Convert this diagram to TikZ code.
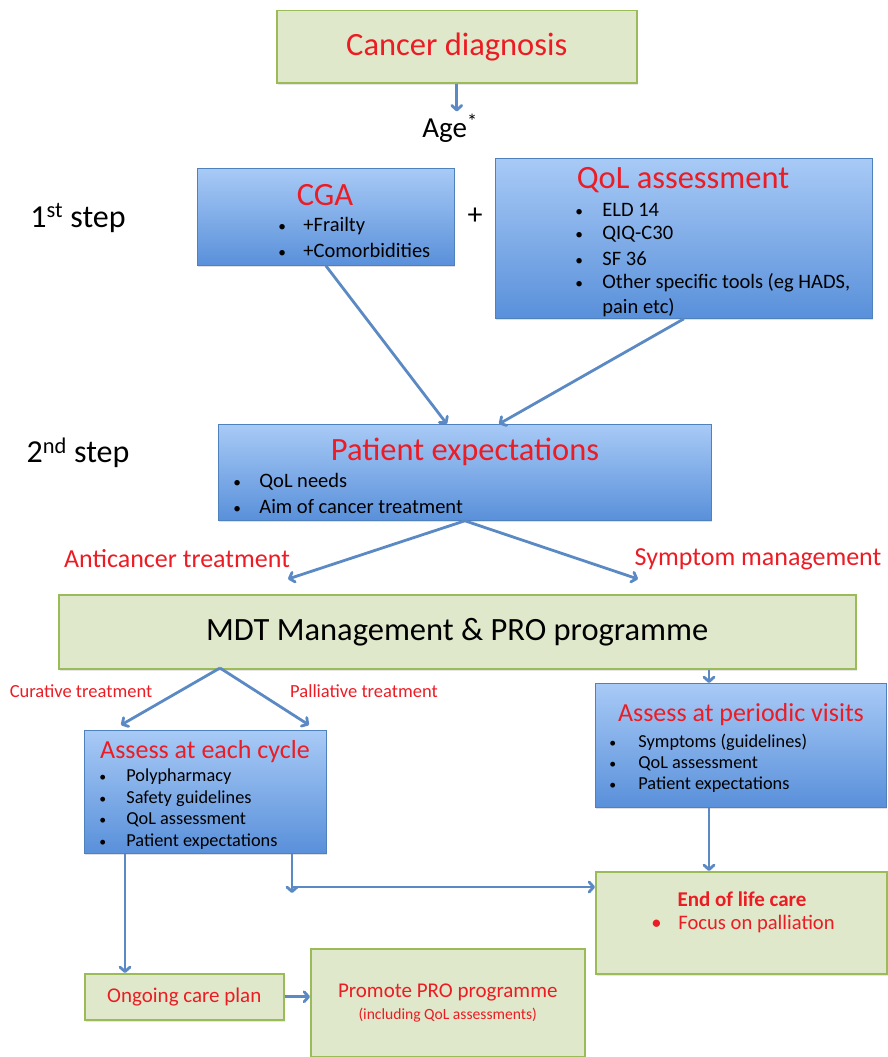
\documentclass[tikz,border=0pt]{standalone}
\usepackage{fontspec}
\setmainfont{Carlito}
\usetikzlibrary{arrows.meta,positioning,calc,shadows}
\definecolor{box-green}{HTML}{DFE8CA}
\definecolor{edge-green}{HTML}{9BBB59}
\definecolor{blue-top}{HTML}{A8CAF6}
\definecolor{blue-bottom}{HTML}{5990DA}
\definecolor{edge-blue}{HTML}{4F81BD}
\definecolor{flow-blue}{HTML}{5A89C4}
\definecolor{title-red}{HTML}{EC1C24}

\begin{document}
\begin{tikzpicture}[x=1pt,y=-1pt,thick]
  \tikzstyle{greenbox} = [draw=edge-green, line width=1.5pt, fill=box-green, inner sep=0pt, anchor=north west,
                          drop shadow={opacity=0.2, shadow xshift=1pt, shadow yshift=-2pt}]
  \tikzstyle{bluebox} = [draw=edge-blue, line width=0.8pt, top color=blue-top, bottom color=blue-bottom, inner sep=0pt,
                         anchor=north west, drop shadow={opacity=0.25, shadow xshift=1pt, shadow yshift=-2pt}]
  \tikzstyle{flow} = [draw=flow-blue, line width=2.8pt, -{Straight Barb[length=4.5pt,width=10pt,round]}]
  \tikzstyle{item} = [anchor=west, inner sep=0pt]
  \tikzstyle{redtext} = [text=title-red, inner sep=0pt]
  % Font sizes (1pt = 1px of the figure).
    \def\fbig{\fontsize{32.5}{38}\selectfont}
    \def\fmid{\fontsize{26}{30}\selectfont}
    \def\flist{\fontsize{20.5}{24}\selectfont}
    \def\fsmall{\fontsize{18.3}{21}\selectfont}
    \def\fbox{\fontsize{21}{24}\selectfont}
    \def\dot{\scalebox{0.75}{\textbullet}}
    \def\bul{\makebox[25pt][l]{\dot}}
  \useasboundingbox (0,0) rectangle (888,1057);
% Top of the chart.
    \node[greenbox, minimum width=360pt, minimum height=72pt, font=\fbig, text=title-red] (diag) at (276,10) {Cancer diagnosis};
    \node[font=\fontsize{29}{33}\selectfont, inner sep=2pt] (age) at (450,128) {Age\textsuperscript{*}};
    \draw[flow] (diag.south) -- (diag.south |- age.north);
% 1st step
    \node[font=\fontsize{32}{36}\selectfont] (step1) at (78,218) {1\textsuperscript{st} step};
    \node[bluebox, minimum width=257pt, minimum height=97pt] (cga) at (197,168) {};
    \node[redtext, font=\fbig] (cgat) at (325,195) {CGA};
    \foreach \t [count=\i] in {+Frailty, +Comorbidities}
      \node[item, font=\flist] at (278,{202+\i*24}) {\bul\t};
    \node[font=\fontsize{30}{34}\selectfont] (plus) at (475,216) {+};
    \node[bluebox, minimum width=377pt, minimum height=160pt] (qol) at (495,158) {};
    \node[redtext, font=\fbig] (qolt) at (683,180) {QoL assessment};
    \foreach \t [count=\i] in {ELD 14, QIQ-C30, SF 36, {Other specific tools (eg HADS,}}
      \node[item, font=\flist] at (575,{185+\i*24.5}) {\makebox[27pt][l]{\dot}\t};
    \node[item, font=\flist] at (602,308) {pain etc)};
% 2nd step
    \node[font=\fontsize{32}{36}\selectfont] (step2) at (78,453) {2\textsuperscript{nd} step};
    \node[bluebox, minimum width=493pt, minimum height=96pt] (pe) at (218,424) {};
    \node[redtext, font=\fbig] (pet) at (465,452) {Patient expectations};
    \foreach \t [count=\i] in {QoL needs, Aim of cancer treatment}
      \node[item, font=\flist] at (233,{457+\i*25}) {\makebox[26pt][l]{\dot}\t};
    \draw[flow] (cga.south) -- ([xshift=-18pt]pe.north);
    \draw[flow] (qol.south) -- ([xshift=34pt]pe.north);
% Treatment routes
    \coordinate (anti) at (288,579);
    \coordinate (symp) at (638,579);
    \node[redtext, font=\fmid] (antil) at (177,559) {Anticancer treatment};
    \node[redtext, font=\fmid] (sympl) at (758,559) {Symptom management};
    \draw[flow] (pe.south) -- (anti);
    \draw[flow] (pe.south) -- (symp);
    \node[greenbox, minimum width=797pt, minimum height=74pt, font=\fbig] (mdt) at (58,594) {MDT Management \& PRO programme};
% Left branch
    \coordinate (split) at (220,668);
    \coordinate (cur) at (121,725);
    \coordinate (pal) at (309,725);
    \node[redtext, font=\fontsize{18.5}{21}\selectfont] (curl) at (81,691) {Curative treatment};
    \node[redtext, font=\fontsize{18.5}{21}\selectfont] (pall) at (364,691) {Palliative treatment};
    \draw[flow] (split) -- (cur);
    \draw[flow] (split) -- (pal);
    \node[bluebox, minimum width=242pt, minimum height=123pt] (ac) at (84,730) {};
    \node[redtext, font=\fmid] (act) at (205,752) {Assess at each cycle};
    \foreach \t [count=\i] in {Polypharmacy, Safety guidelines, QoL assessment, Patient expectations}
      \node[item, font=\fsmall] at (99,{755.5+\i*21.5}) {\makebox[27pt][l]{\dot}\t};
% Right branch
    \coordinate (xpv) at (709,0);
    \node[bluebox, minimum width=291pt, minimum height=124pt] (pv) at (595,683) {};
    \node[redtext, font=\fmid] (pvt) at (741,715) {Assess at periodic visits};
    \foreach \t [count=\i] in {Symptoms (guidelines), QoL assessment, Patient expectations}
      \node[item, font=\fsmall] at (609,{720.5+\i*21.5}) {\makebox[29pt][l]{\dot}\t};
    \draw[flow] (mdt.south -| xpv) -- (pv.north -| xpv);
    \node[greenbox, minimum width=291pt, minimum height=102pt] (eol) at (595,871) {};
    \node[redtext, font=\fbox\bfseries] (eolt) at (742,899) {End of life care};
    \node[item, redtext, font=\fontsize{20.6}{24}\selectfont] (focus) at (651,924) {\makebox[27pt][l]{\textbullet}Focus on palliation};
    \draw[flow] (pv.south -| xpv) -- (eol.north -| xpv);
% Bottom
    \coordinate (xog) at (125,0);
    \coordinate (tee) at (292,887);
    \coordinate (teeend) at (292,893);
    \node[greenbox, minimum width=199pt, minimum height=46pt, font=\fbox, text=title-red] (og) at (84,973) {Ongoing care plan};
    \node[greenbox, minimum width=274pt, minimum height=108pt, text=title-red, align=center, font=\fbox] (pro) at (310,948)
      {Promote PRO programme\\[-2pt]{\fontsize{15.6}{18}\selectfont (including QoL assessments)}};
    \draw[flow] (ac.south -| xog) -- (og.north -| xog);
    \draw[flow] (ac.south -| teeend) -- (teeend);
    \draw[flow] (tee) -- (tee -| eol.west);
    \draw[flow] (og.east) -- (og.east -| pro.west);
  \end{tikzpicture}
\end{document}
